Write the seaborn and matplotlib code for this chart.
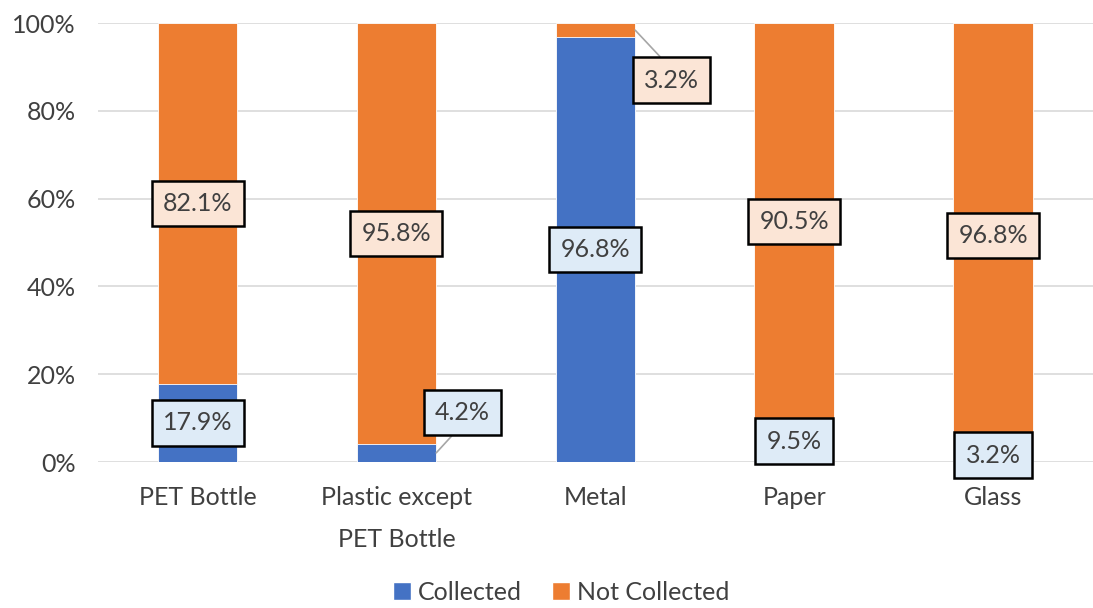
import matplotlib
matplotlib.use("Agg")
import matplotlib.pyplot as plt
import seaborn as sns
import numpy as np
import pandas as pd
from matplotlib.patches import Patch

categories = ["PET Bottle", "Plastic except\nPET Bottle", "Metal", "Paper", "Glass"]
collected = [17.9, 4.2, 96.8, 9.5, 3.2]
not_collected = [82.1, 95.8, 3.2, 90.5, 96.8]

BLUE = "#4472C4"
ORANGE = "#ED7D31"
BLUE_BOX = "#DEEBF7"
ORANGE_BOX = "#FBE5D6"
TXT = "#404040"
FS = 18

sns.set_theme(style="white")
plt.rcParams['font.family'] = ['Lato', 'DejaVu Sans']
plt.rcParams['font.weight'] = 'normal'

fig = plt.figure(figsize=(10.93, 6.08), dpi=100)
ax = fig.add_axes([0.0897, 0.240, 0.91, 0.722])

df = pd.DataFrame({"cat": categories, "collected": collected, "not": not_collected})
df["total"] = df["collected"] + df["not"]

sns.barplot(data=df, x="cat", y="total", color=ORANGE, saturation=1, width=0.4,
            ax=ax, edgecolor="white", linewidth=0.6, zorder=2)
sns.barplot(data=df, x="cat", y="collected", color=BLUE, saturation=1, width=0.4,
            ax=ax, edgecolor="white", linewidth=0.6, zorder=3)

ax.set_ylim(0, 100)
ax.set_xlim(-0.5, 4.5)
ax.set_yticks(np.arange(0, 101, 20))
ax.set_yticklabels([f"{v}%" for v in range(0, 101, 20)])
ax.yaxis.grid(True, color="#D9D9D9", linewidth=1.2, zorder=0)
ax.set_axisbelow(True)
for s in ax.spines.values():
    s.set_visible(False)
ax.set_xlabel("")
ax.set_ylabel("")
ax.tick_params(axis="both", length=0, labelsize=FS, labelcolor=TXT)
ax.tick_params(axis="y", pad=16)
ax.tick_params(axis="x", pad=17)
for t in ax.get_xticklabels():
    t.set_linespacing(2.0)

def box(fc):
    return dict(boxstyle="square,pad=0.45", fc=fc, ec="black", lw=1.8)

line = dict(arrowstyle="-", color="#A6A6A6", lw=1.2, shrinkA=0, shrinkB=0, relpos=(0.5, 0))
line_top = dict(arrowstyle="-", color="#A6A6A6", lw=1.2, shrinkA=0, shrinkB=0, relpos=(0.5, 1))

# label offsets (points) for labels moved outside the bars
offsets_collected = {1: (19, 29)}
offsets_not = {2: (26, -36)}

for i in range(len(categories)):
    c = collected[i]
    n = not_collected[i]
    if i in offsets_collected:
        ax.annotate(f"{c}%", xy=(i + 0.2, c / 2), xytext=offsets_collected[i],
                    textcoords="offset points", ha="center", va="center",
                    fontsize=FS, color=TXT, bbox=box(BLUE_BOX), zorder=5, arrowprops=line)
    else:
        ax.annotate(f"{c}%", xy=(i, c / 2), ha="center", va="center",
                    fontsize=FS, color=TXT, bbox=box(BLUE_BOX), zorder=5)
    if i in offsets_not:
        ax.annotate(f"{n}%", xy=(i + 0.2, c + n / 2), xytext=offsets_not[i],
                    textcoords="offset points", ha="center", va="center",
                    fontsize=FS, color=TXT, bbox=box(ORANGE_BOX), zorder=5, arrowprops=line_top)
    else:
        ax.annotate(f"{n}%", xy=(i, c + n / 2), ha="center", va="center",
                    fontsize=FS, color=TXT, bbox=box(ORANGE_BOX), zorder=5)

handles = [Patch(facecolor=BLUE, label="Collected"), Patch(facecolor=ORANGE, label="Not Collected")]
fig.legend(handles=handles, loc="center", bbox_to_anchor=(0.513, 0.026), ncol=2,
           frameon=False, fontsize=FS, handlelength=0.75, handleheight=0.75,
           handletextpad=0.25, columnspacing=1.2, labelcolor=TXT)

fig.savefig("out.png", dpi=100)
